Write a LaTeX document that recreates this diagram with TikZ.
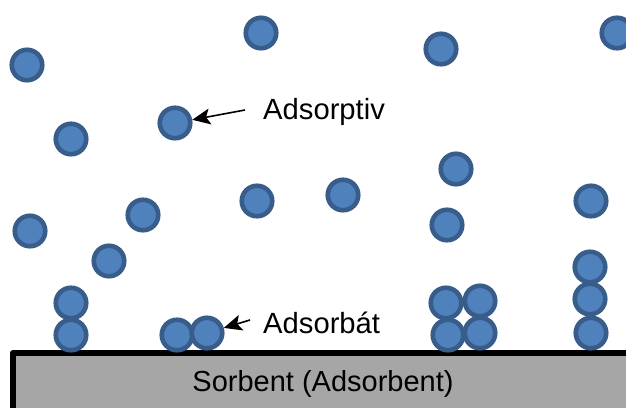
\documentclass[tikz,border=0pt]{standalone}
\usepackage{fontspec}
\setmainfont{Liberation Sans}
\usetikzlibrary{arrows.meta}
\begin{document}
\begin{tikzpicture}[x=1pt,y=-1pt,
  mol/.style={circle,draw=molline,fill=molfill,line width=4.6pt,minimum size=30.5pt,inner sep=0pt},
  lab/.style={font=\fontsize{29.2}{31}\selectfont,text=black,anchor=base west,inner sep=0pt},
  pointer/.style={-{Stealth[length=18pt,width=16pt,inset=4pt]},line width=1.6pt,black}]
\definecolor{molfill}{HTML}{4F81BD}
\definecolor{molline}{HTML}{385D8A}
\definecolor{sorb}{HTML}{A6A6A6}
\useasboundingbox (0,0) rectangle (626,407);
\clip (0,0) rectangle (626,407);
\draw[line width=5.5pt,fill=sorb,line join=round] (12.75,352.75) rectangle (640,420);
\node[font=\fontsize{29}{31}\selectfont,anchor=base,inner sep=0pt] (sorbent) at (323,391) {Sorbent (Adsorbent)};
\foreach \n/\x/\y in {a/27/65,b/261/33,c/441/49,d/617/33,e/175/123,f/71/139,g/456/169,h/30/231,i/143/215,j/257/201,k/343/195,l/447/225,m/591/201,n/109/261,o/590/267,p/71/303,q/590/299,r/446/303,s/480/301,t/71/335,u/177/335,w/448/335,x/480/333,y/591/333,v/207/333}
  \node[mol] (\n) at (\x,\y) {};
\node[lab] (adsorptiv) at (263,119) {Adsorptiv};
\node[lab] (adsorbat) at (263,333) {Adsorbát};
\coordinate (pa) at (245,110);
\coordinate (pb) at (250,320);
\draw[pointer] (pa) -- (e);
\draw[pointer] (pb) -- (v);
\end{tikzpicture}
\end{document}
